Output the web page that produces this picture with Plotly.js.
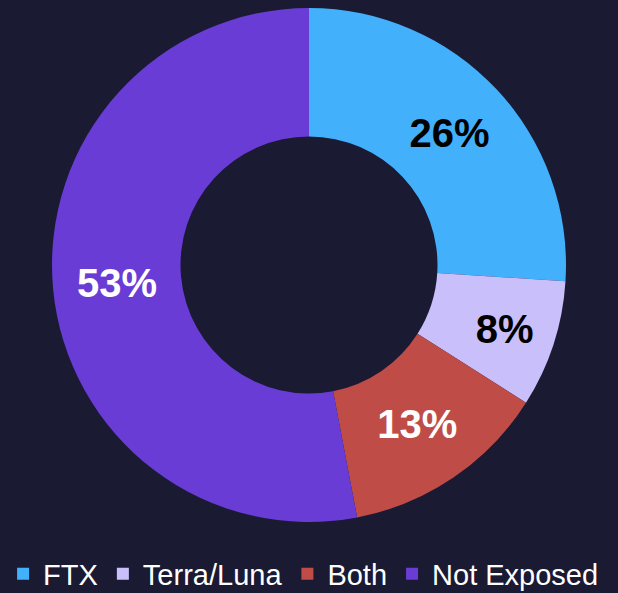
<!DOCTYPE html>
<html>
<head>
<meta charset="utf-8">
<script src="https://cdn.plot.ly/plotly-3.0.1.min.js"></script>
<style>
  html, body { margin: 0; padding: 0; background: #1a1a33; }
  #myPlot { width: 618px; height: 593px; }
</style>
</head>
<body>
<div id="myPlot"></div>
<script>
// exposure categories and shares (%)
var labels = ["FTX", "Terra/Luna", "Both", "Not Exposed"];
var shares = [26, 8, 13, 53];
var sliceColors = ["#42b0fb", "#c9bffa", "#c04c48", "#6a3cd6"];
var labelColors = ["#000000", "#000000", "#ffffff", "#ffffff"];

var data = [{
  type: "pie",
  labels: labels,
  values: shares,
  sort: false,
  direction: "clockwise",
  rotation: 0,
  hole: 0.5,
  domain: { x: [52 / 618, 566 / 618], y: [0, 1] },
  marker: { colors: sliceColors, line: { width: 0 } },
  texttemplate: "%{percent:.0%}",
  textposition: "inside",
  insidetextorientation: "horizontal",
  insidetextfont: { family: "Liberation Sans, Arial", size: 40, weight: "bold", color: labelColors },
  hoverinfo: "label+percent"
}];

var layout = {
  width: 618,
  height: 593,
  paper_bgcolor: "#1a1a33",
  plot_bgcolor: "#1a1a33",
  margin: { l: 0, r: 0, t: 8, b: 71 },
  showlegend: true,
  legend: {
    orientation: "h",
    x: 0.005,
    xanchor: "left",
    yref: "container",
    y: 0.032,
    yanchor: "middle",
    font: { family: "Liberation Sans, Arial", size: 29, color: "#ffffff" },
    bgcolor: "rgba(0,0,0,0)"
  }
};

Plotly.newPlot("myPlot", data, layout, { displayModeBar: false });
</script>
</body>
</html>
